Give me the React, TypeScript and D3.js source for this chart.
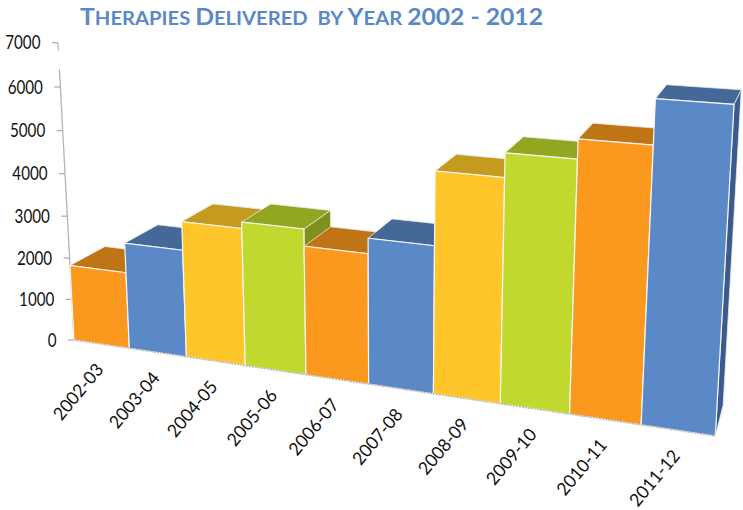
import * as d3 from "d3"
import { useEffect, useRef } from "react"

const WIDTH = 743
const HEIGHT = 510

const categories = [
  "2002-03",
  "2003-04",
  "2004-05",
  "2005-06",
  "2006-07",
  "2007-08",
  "2008-09",
  "2009-10",
  "2010-11",
  "2011-12"
]
const values = [1820, 2520, 3180, 3325, 2940, 3280, 4875, 5385, 5795, 6705]
const yTicks = [0, 1000, 2000, 3000, 4000, 5000, 6000, 7000]

const frontColors = ["#FB991F", "#5B88C6", "#FFC62C", "#C1D82F"]
const topColors = ["#BF7516", "#446897", "#C49B1F", "#93A621"]
const sideColors = ["#A8660F", "#3B5B8C", "#A8871A", "#7F8F1C"]

// Title pieces: [text, is it drawn as a small capital]
const titleParts: [string, boolean][] = [
  ["T", false],
  ["herapies ", true],
  ["D", false],
  ["elivered  by ", true],
  ["Y", false],
  ["ear ", true],
  ["2002 - 2012", false]
]

// World coordinates: u = along the categories, v = value, z = depth (0..1)
const uScale = d3.scaleLinear().domain([0, categories.length]).range([0, 1])
const vScale = d3.scaleLinear().domain([0, 7000]).range([0, 1])

// Camera fitted to the perspective of the reference
const project = (i: number, value: number, z: number): [number, number] => {
  const u = uScale(i)
  const v = vScale(value)
  const w = 1 - 0.15 * u - 0.0483 * v + 0.0452 * z
  const x = (74 + 534 * u - 18.83 * v + 39.3 * z) / w
  const y = (340 + 30.6 * u - 299.4 * v - 7.59 * z) / w
  return [x, y]
}

const App = () => {
  const svgRef = useRef<SVGSVGElement | null>(null)

  useEffect(() => {
    if (!svgRef.current) return

    const svg = d3.select(svgRef.current)
    svg.selectAll("*").remove()

    const poly = d3.line().curve(d3.curveLinearClosed)
    const seg = d3.line()

    // Title
    const title = svg
      .append("text")
      .attr("x", 80)
      .attr("y", 25)
      .attr("textLength", 463)
      .attr("lengthAdjust", "spacingAndGlyphs")
      .style("font-family", "Lato, 'Open Sans', sans-serif")
      .style("font-weight", "bold")
      .style("white-space", "pre")
      .style("fill", "#5B88C6")
    titleParts.forEach(([part, small]) => {
      title
        .append("tspan")
        .style("font-size", small ? "18px" : "22px")
        .style("text-transform", small ? "uppercase" : "none")
        .text(part)
    })

    // Value axis, the line has a gap below the top tick in the original
    const axis = svg.append("g")
    const axisParts: [number, number][] = [
      [0, 6400],
      [6830, 7000]
    ]
    axisParts.forEach(([a, b]) => {
      axis
        .append("path")
        .attr("d", seg([project(0, a, 0), project(0, b, 0)]))
        .attr("fill", "none")
        .attr("stroke", "#b5b5b5")
        .attr("stroke-width", 1.3)
    })

    yTicks.forEach(t => {
      const [x, y] = project(0, t, 0)
      axis
        .append("line")
        .attr("x1", x - 6)
        .attr("x2", x)
        .attr("y1", y)
        .attr("y2", y)
        .attr("stroke", "#a8a8a8")
        .attr("stroke-width", 1.2)
      const label = String(t)
      axis
        .append("text")
        .attr("x", x - 17.5)
        .attr("y", y + 6.7)
        .attr("text-anchor", "end")
        .attr("textLength", label.length * 8.8)
        .attr("lengthAdjust", "spacingAndGlyphs")
        .style("font-family", "Lato, sans-serif")
        .style("font-size", "18.5px")
        .style("fill", "#111")
        .text(label)
    })

    // Bars, painted left to right so each one covers its neighbour's side
    const bars = svg.append("g")
    values.forEach((value, i) => {
      const c = i % frontColors.length
      bars
        .append("path")
        .attr(
          "d",
          poly([
            project(i + 1, value, 0),
            project(i + 1, value, 1),
            project(i + 1, 0, 1),
            project(i + 1, 0, 0)
          ])
        )
        .attr("fill", sideColors[c])
        .attr("stroke", "#e8e8e8")
        .attr("stroke-width", 0.8)
      bars
        .append("path")
        .attr(
          "d",
          poly([
            project(i, value, 0),
            project(i, value, 1),
            project(i + 1, value, 1),
            project(i + 1, value, 0)
          ])
        )
        .attr("fill", topColors[c])
        .attr("stroke", "#e8e8e8")
        .attr("stroke-width", 0.8)
      bars
        .append("path")
        .attr(
          "d",
          poly([
            project(i, 0, 0),
            project(i, value, 0),
            project(i + 1, value, 0),
            project(i + 1, 0, 0)
          ])
        )
        .attr("fill", frontColors[c])
        .attr("stroke", "#f6f6f6")
        .attr("stroke-width", 1.2)
    })

    // Floor edge
    svg
      .append("path")
      .attr(
        "d",
        seg([project(0, 0, 0), project(categories.length, 0, 0)])
      )
      .attr("fill", "none")
      .attr("stroke", "#b8b8b8")
      .attr("stroke-width", 1.4)
      .attr("stroke-dasharray", "2 1")

    // Category labels
    categories.forEach((cat, i) => {
      const [x, y] = project(i + 0.5, 0, 0)
      svg
        .append("text")
        .attr("transform", `translate(${x + 3},${y + 26}) rotate(-50)`)
        .attr("text-anchor", "end")
        .attr("textLength", 67)
        .attr("lengthAdjust", "spacingAndGlyphs")
        .style("font-family", "Lato, sans-serif")
        .style("font-size", "18px")
        .style("fill", "#111")
        .text(cat)
    })
  }, [])

  return (
    <svg
      ref={svgRef}
      width={WIDTH}
      height={HEIGHT}
      style={{ position: "absolute", left: 0, top: 0, background: "#fff" }}
    />
  )
}

export default App
